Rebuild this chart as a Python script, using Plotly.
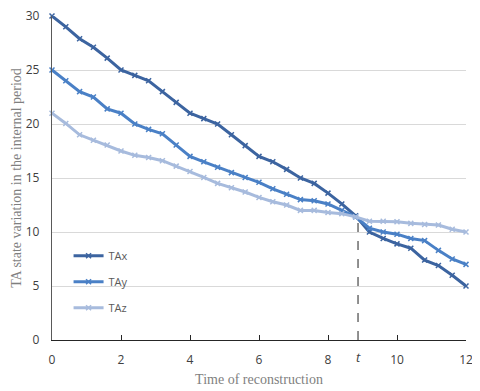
import plotly.graph_objects as go

x_vals = [round(i * 0.4, 1) for i in range(31)]

tax = [30, 29, 27.9, 27.1, 26.1, 25, 24.5, 24, 23, 22, 21, 20.5, 20, 19, 18, 17, 16.5,
       15.8, 15, 14.5, 13.6, 12.6, 11.5, 10, 9.4, 8.9, 8.5, 7.4, 6.9, 6, 5]
tay = [25, 24, 23, 22.5, 21.4, 21, 20, 19.5, 19.1, 18.05, 17, 16.5, 16, 15.5, 15.05, 14.6, 14,
       13.5, 13, 12.9, 12.6, 12, 11.4, 10.35, 10, 9.8, 9.4, 9.2, 8.3, 7.5, 7]
taz = [21, 20.05, 19, 18.5, 18.05, 17.5, 17.1, 16.9, 16.6, 16.1, 15.6, 15.05, 14.5, 14.1, 13.7,
       13.2, 12.8, 12.5, 12, 12, 11.8, 11.7, 11.4, 11.0, 11.0, 10.95, 10.8, 10.7, 10.65, 10.25, 10]

series_names = ["TAx", "TAy", "TAz"]
series_values = [tax, tay, taz]
colors = ["#3c64a0", "#4a80c6", "#a7bbdd"]

t_value = 8.87
t_cross_y = 11.5

x_ticks = [0, 2, 4, 6, 8, 10, 12]
y_ticks = [0, 5, 10, 15, 20, 25, 30]

fig = go.Figure()
for name, vals, c in zip(series_names, series_values, colors):
    fig.add_trace(go.Scatter(
        x=x_vals, y=vals, name=name, mode="lines+markers",
        legendgroup=name, cliponaxis=False,
        line=dict(color=c, width=3),
        marker=dict(symbol="x-thin", size=5, line=dict(color=c, width=1.5), color=c),
    ))

fig.add_shape(type="line", x0=t_value, x1=t_value, y0=0, y1=t_cross_y,
              xref="x", yref="y", line=dict(color="#222222", width=1, dash="dash"))

fig.add_annotation(x=t_value, y=0, xref="x", yref="y", text="<i>t</i>",
                   showarrow=False, yshift=-17,
                   font=dict(family="Open Sans", size=13, color="#404040"))

fig.update_layout(
    width=472, height=383,
    margin=dict(l=44, r=14, t=8, b=51, autoexpand=False),
    paper_bgcolor="white", plot_bgcolor="white",
    showlegend=True,
    legend=dict(x=0.04, y=0.305, xanchor="left", yanchor="top",
                bgcolor="rgba(0,0,0,0)", traceorder="grouped", tracegroupgap=7,
                font=dict(family="Open Sans", size=11, color="#595959"),
                itemwidth=30),
)

fig.update_xaxes(
    range=[0, 12], tickvals=x_ticks, ticktext=[str(v) for v in x_ticks],
    showgrid=False, zeroline=False, automargin=False,
    showline=True, linecolor="#262626", linewidth=1.3,
    ticks="inside", ticklen=5, tickcolor="#262626", ticklabelstandoff=8,
    ticklabeloverflow="allow",
    tickfont=dict(family="Open Sans", size=12, color="#404040"),
    title=dict(text="Time of reconstruction",
               font=dict(family="Liberation Serif", size=14, color="#7f7f7f"),
               standoff=7),
)
fig.update_yaxes(
    range=[0, 30], tickvals=y_ticks,
    showgrid=True, gridcolor="#d9d9d9", gridwidth=1, zeroline=False, automargin=False,
    showline=True, linecolor="#595959", linewidth=1.3,
    ticks="", ticklabelstandoff=9, ticklabeloverflow="allow",
    tickfont=dict(family="Open Sans", size=12, color="#404040"),
    title=dict(text="TA state variation in the internal period",
               font=dict(family="Liberation Serif", size=14, color="#7f7f7f"),
               standoff=0),
)

fig.write_html("out.html")
